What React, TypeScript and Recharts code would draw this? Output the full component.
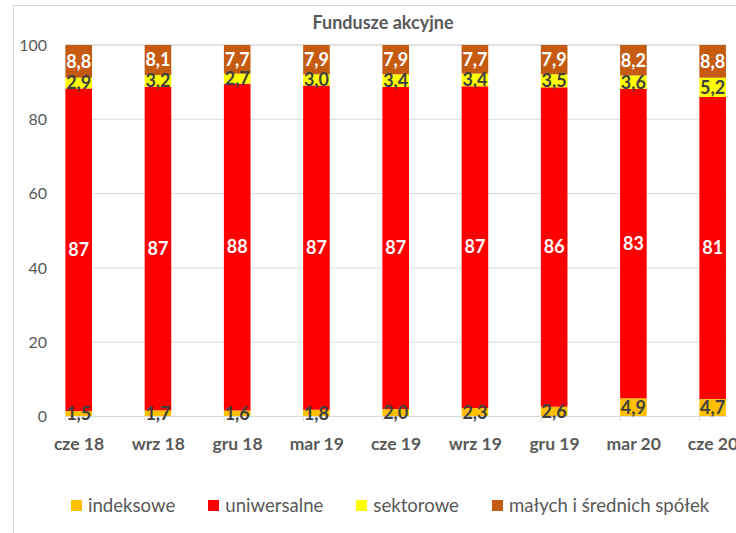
import React from "react";
import {
    BarChart,
    Bar,
    XAxis,
    YAxis,
    CartesianGrid,
    LabelList,
    Legend,
} from "recharts";

const categories = ["cze 18", "wrz 18", "gru 18", "mar 19", "cze 19", "wrz 19", "gru 19", "mar 20", "cze 20"];
const indeksowe = [1.5, 1.7, 1.6, 1.8, 2.0, 2.3, 2.6, 4.9, 4.7];
const uniwersalne = [86.8, 87.0, 88.0, 87.3, 86.7, 86.6, 86.0, 83.3, 81.3];
const sektorowe = [2.9, 3.2, 2.7, 3.0, 3.4, 3.4, 3.5, 3.6, 5.2];
const maleSrednie = [8.8, 8.1, 7.7, 7.9, 7.9, 7.7, 7.9, 8.2, 8.8];
const yTicks = [0, 20, 40, 60, 80, 100];

const FONT = "Lato, 'DejaVu Sans', sans-serif";
const GRAY = "#595959";
const DARK = "#404040";

const series = [
    { key: "indeksowe", name: "indeksowe", color: "#FFC000", text: DARK, digits: 1 },
    { key: "uniwersalne", name: "uniwersalne", color: "#FF0000", text: "#FFFFFF", digits: 0 },
    { key: "sektorowe", name: "sektorowe", color: "#FFFF00", text: DARK, digits: 1 },
    { key: "maleSrednie", name: "małych i średnich spółek", color: "#C55A11", text: "#FFFFFF", digits: 1 },
];

const data = categories.map((cat, i) => ({
    cat,
    indeksowe: indeksowe[i],
    uniwersalne: uniwersalne[i],
    sektorowe: sektorowe[i],
    maleSrednie: maleSrednie[i],
}));

const fmt = (digits: number) => (v: any) => Number(v).toFixed(digits).replace(".", ",");

function XTick(props: any) {
    const { x, y, payload } = props;
    return (
        <g>
            <line x1={x - 13.3} x2={x - 13.3} y1={y} y2={y + 5} stroke="#d9d9d9" />
            <text
                x={x}
                y={y + 26.5}
                textAnchor="middle"
                dominantBaseline="central"
                fill={GRAY}
                fontFamily={FONT}
                fontSize={17.5}
                fontWeight="bold"
            >
                {payload.value}
            </text>
        </g>
    );
}

function LegendContent() {
    return (
        <div
            style={{
                display: "flex",
                alignItems: "center",
                height: 30,
                paddingLeft: 71,
                fontFamily: FONT,
                fontSize: 18.6,
                color: GRAY,
                whiteSpace: "nowrap",
            }}
        >
            {series.map((s) => (
                <div key={s.key} style={{ display: "flex", alignItems: "center", marginRight: 33 }}>
                    <span style={{ width: 11, height: 11, background: s.color, marginRight: 6, display: "inline-block" }} />
                    <span>{s.name}</span>
                </div>
            ))}
        </div>
    );
}

export default function App() {
    return (
        <div
            style={{
                position: "absolute",
                left: 0,
                top: 0,
                width: 736,
                height: 533,
                overflow: "hidden",
                background: "#fff",
            }}
        >
            <div
                style={{
                    position: "absolute",
                    left: 13,
                    top: 5,
                    width: 760,
                    height: 560,
                    border: "1px solid #d9d9d9",
                }}
            />
            <div
                style={{
                    position: "absolute",
                    left: 283,
                    width: 200,
                    top: 10,
                    textAlign: "center",
                    fontFamily: FONT,
                    fontWeight: "bold",
                    fontSize: 18,
                    color: GRAY,
                    lineHeight: "24px",
                }}
            >
                Fundusze akcyjne
            </div>
            <div style={{ position: "absolute", left: 0, top: 0 }}>
                <BarChart
                    width={736}
                    height={533}
                    data={data}
                    margin={{ top: 45, right: 9, left: 0, bottom: 13 }}
                >
                    <CartesianGrid vertical={false} stroke="#d9d9d9" />
                    <XAxis
                        dataKey="cat"
                        height={73.5}
                        padding={{ left: -25.6, right: -25.6 }}
                        axisLine={{ stroke: "#d9d9d9" }}
                        tickLine={false}
                        tickSize={0}
                        tickMargin={0}
                        interval={0}
                        tick={<XTick />}
                    />
                    <YAxis
                        width={65}
                        domain={[0, 100]}
                        ticks={yTicks}
                        axisLine={false}
                        tickLine={false}
                        tickSize={0}
                        tickMargin={18}
                        tick={{ fill: GRAY, fontSize: 16, fontFamily: FONT }}
                    />
                    <Legend
                        verticalAlign="bottom"
                        align="left"
                        wrapperStyle={{ left: 0, width: 736 }}
                        content={<LegendContent />}
                    />
                    {series.map((s) => (
                        <Bar
                            key={s.key}
                            dataKey={s.key}
                            name={s.name}
                            stackId="a"
                            fill={s.color}
                            barSize={26.6}
                            isAnimationActive={false}
                        >
                            <LabelList
                                dataKey={s.key}
                                position="center"
                                formatter={fmt(s.digits)}
                                fill={s.text}
                                fontFamily={FONT}
                                fontSize={18}
                                fontWeight="bold"
                            />
                        </Bar>
                    ))}
                </BarChart>
            </div>
        </div>
    );
}
